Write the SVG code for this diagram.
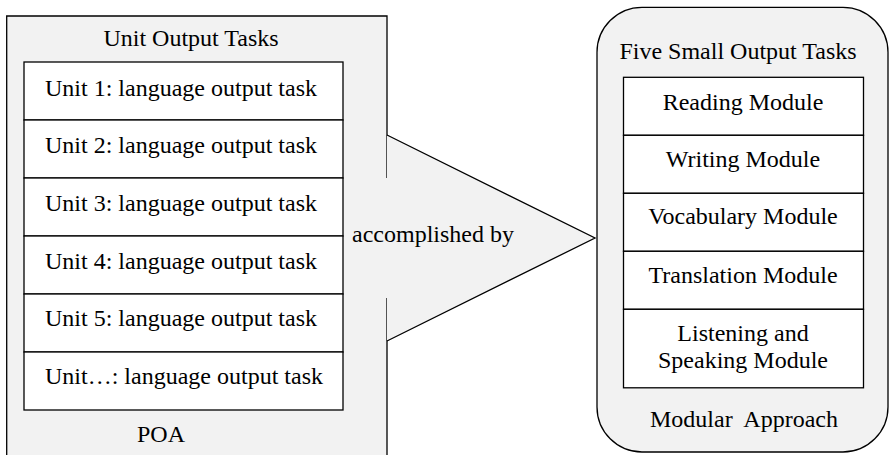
<svg xmlns="http://www.w3.org/2000/svg" width="889" height="455" viewBox="0 0 889 455">
<style>
text{font-family:"Liberation Serif","Times New Roman",serif;font-size:24px;fill:#000;text-anchor:middle}
.grp{fill:#f2f2f2}
.ln{fill:none;stroke:#000;stroke-width:1.3}
.cell{fill:#fff;stroke:#000;stroke-width:1.3}
</style>
<rect width="889" height="455" fill="#fff"/>
<g id="poa">
<rect class="grp" x="6.7" y="16" width="380.3" height="450"/>
<path class="ln" d="M6.7,460 V16 H387 V178 M387,298 V460"/>
<text x="191" y="46">Unit Output Tasks</text>
<text x="161" y="442">POA</text>
</g>
<g id="unit1"><rect class="cell" x="24" y="62" width="319" height="58"/><text x="181" y="96">Unit 1: language output task</text></g>
<g id="unit2"><rect class="cell" x="24" y="120" width="319" height="58"/><text x="181" y="153">Unit 2: language output task</text></g>
<g id="unit3"><rect class="cell" x="24" y="178" width="319" height="58"/><text x="181" y="211">Unit 3: language output task</text></g>
<g id="unit4"><rect class="cell" x="24" y="236" width="319" height="58"/><text x="181" y="269">Unit 4: language output task</text></g>
<g id="unit5"><rect class="cell" x="24" y="294" width="319" height="58"/><text x="181" y="326">Unit 5: language output task</text></g>
<g id="unitn"><rect class="cell" x="24" y="352" width="319" height="58"/><text x="184" y="384">Unit…: language output task</text></g>
<g id="modular">
<rect class="grp" x="597" y="7.3" width="291" height="444.7" rx="45" ry="45" stroke="#000" stroke-width="1.3"/>
<text x="738" y="59">Five Small Output Tasks</text>
<text x="744" y="427" xml:space="preserve">Modular  Approach</text>
</g>
<g id="reading"><rect class="cell" x="623.5" y="77.3" width="240" height="58"/><text x="743" y="110">Reading Module</text></g>
<g id="writing"><rect class="cell" x="623.5" y="135.3" width="240" height="58"/><text x="743" y="167">Writing Module</text></g>
<g id="vocab"><rect class="cell" x="623.5" y="193.3" width="240" height="58"/><text x="743" y="224">Vocabulary Module</text></g>
<g id="translation"><rect class="cell" x="623.5" y="251.3" width="240" height="58"/><text x="743" y="283">Translation Module</text></g>
<g id="listening"><rect class="cell" x="623.5" y="309.3" width="240" height="78.5"/><text x="743" y="341">Listening and</text><text x="743" y="368">Speaking Module</text></g>
<g id="connectors">
<polygon class="grp" points="387,135 595,238 387,341"/>
<path class="ln" d="M387,135 L595,238 L387,341"/>
<text x="433" y="242">accomplished by</text>
</g>
</svg>
